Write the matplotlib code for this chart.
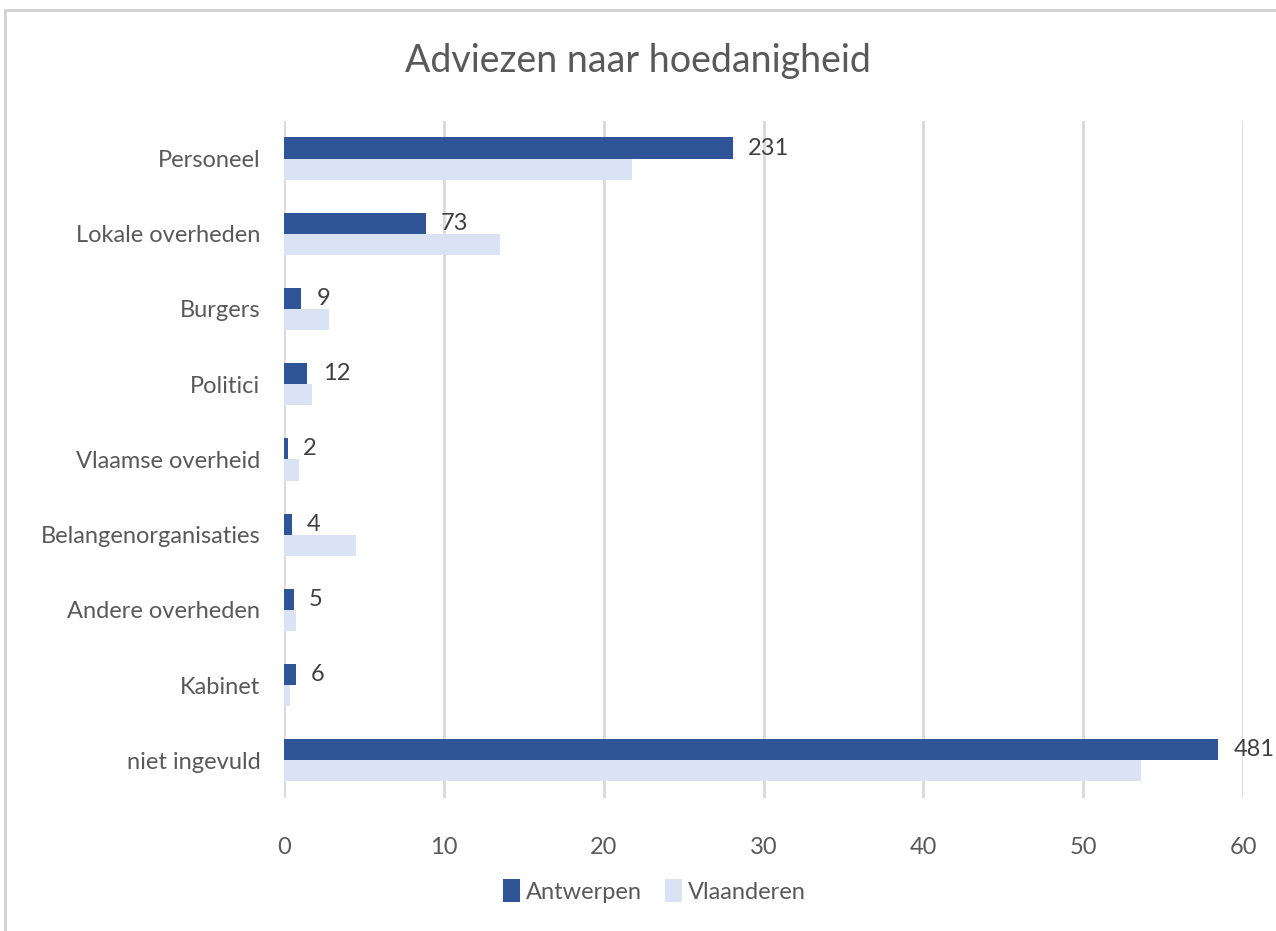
import matplotlib.pyplot as plt
import numpy as np
from matplotlib.patches import Rectangle

plt.rcParams["font.family"] = ["Liberation Sans Narrow", "Lato", "DejaVu Sans"]

# Data
categories = [
    "Personeel",
    "Lokale overheden",
    "Burgers",
    "Politici",
    "Vlaamse overheid",
    "Belangenorganisaties",
    "Andere overheden",
    "Kabinet",
    "niet ingevuld",
]
antwerpen_counts = [231, 73, 9, 12, 2, 4, 5, 6, 481]
antwerpen_pct = [28.07, 8.87, 1.09, 1.46, 0.24, 0.49, 0.61, 0.73, 58.45]
vlaanderen_pct = [21.8, 13.5, 2.8, 1.75, 0.94, 4.5, 0.75, 0.4, 53.6]
xticks = [0, 10, 20, 30, 40, 50, 60]

dark = "#2F5597"
light = "#DAE3F3"
text_col = "#595959"
grid_col = "#D9D9D9"
fs = 17

fig = plt.figure(figsize=(12.76, 9.31), dpi=100)
ax = fig.add_axes([0.2226, 0.1429, 0.7516, 0.7272])

y = np.arange(len(categories))
h = 0.28
ax.barh(y - h / 2, antwerpen_pct, height=h, color=dark, label="Antwerpen", zorder=3)
ax.barh(y + h / 2, vlaanderen_pct, height=h, color=light, label="Vlaanderen", zorder=3)

for yi, v, c in zip(y, antwerpen_pct, antwerpen_counts):
    ax.annotate(
        str(c),
        (v, yi - h / 2),
        xytext=(11, 0),
        textcoords="offset points",
        ha="left",
        va="center",
        fontsize=fs,
        color="#404040",
        annotation_clip=False,
    )

ax.set_ylim(len(categories) - 0.5, -0.5)
ax.set_xlim(0, 60)
ax.set_xticks(xticks)
ax.set_yticks(y)
ax.set_yticklabels(categories)
ax.tick_params(axis="y", length=0, pad=17, labelsize=fs, labelcolor=text_col)
ax.tick_params(axis="x", length=0, pad=28, labelsize=fs, labelcolor=text_col)
ax.grid(axis="x", color=grid_col, linewidth=2, zorder=0)
for s in ax.spines.values():
    s.set_visible(False)

fig.text(0.5, 0.935, "Adviezen naar hoedanigheid", ha="center", va="center",
         fontsize=27, color=text_col)

leg = fig.legend(
    loc="center",
    bbox_to_anchor=(0.513, 0.043),
    ncol=2,
    frameon=False,
    fontsize=fs,
    handlelength=0.7,
    handleheight=1.1,
    handletextpad=0.25,
    columnspacing=1.0,
)
for t in leg.get_texts():
    t.set_color(text_col)

# chart frame
fig.patches.append(Rectangle((0.004, -0.01), 1.2, 0.999, transform=fig.transFigure,
                             fill=False, edgecolor="#D0D0D0", linewidth=2))

fig.savefig("out.png", dpi=100, facecolor="white")
